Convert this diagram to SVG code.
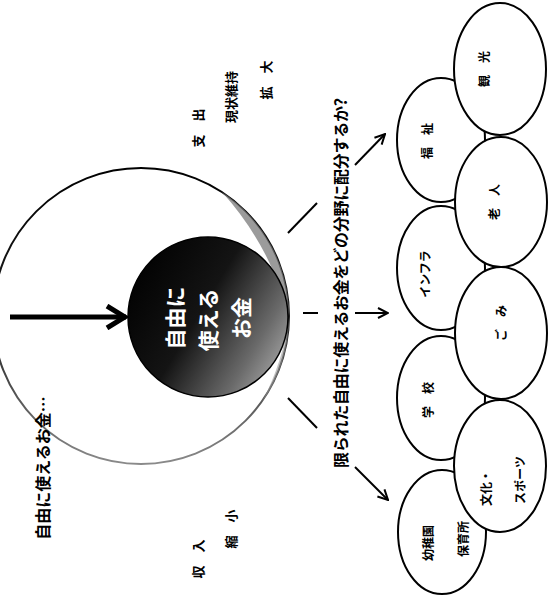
<svg xmlns="http://www.w3.org/2000/svg" width="557" height="608" viewBox="0 0 557 608">
<defs>
<style>
text{font-family:"Noto Sans CJK JP","Noto Sans CJK SC",sans-serif;font-weight:bold;fill:#000;text-anchor:middle;dominant-baseline:central}
.lbl{font-size:13px}
.el{font-size:12px}
.ctr{font-size:21px;fill:#fff}
ellipse{fill:#fff;stroke:#000;stroke-width:2}
.ln{stroke:#000;stroke-width:2;fill:none}
</style>
<linearGradient id="dark" x1="0" y1="0.2" x2="1" y2="0.8">
<stop offset="0" stop-color="#000"/>
<stop offset="0.45" stop-color="#141414"/>
<stop offset="0.8" stop-color="#6a6a6a"/>
<stop offset="1" stop-color="#a8a8a8"/>
</linearGradient>
<linearGradient id="ring" x1="0" y1="0" x2="0" y2="1">
<stop offset="0" stop-color="#000"/>
<stop offset="0.55" stop-color="#222"/>
<stop offset="1" stop-color="#8a8a8a"/>
</linearGradient>
<marker id="ah" viewBox="0 0 12 12" refX="11" refY="6" markerWidth="12" markerHeight="12" markerUnits="userSpaceOnUse" orient="auto">
<path d="M1,1 L11,6 L1,11" fill="none" stroke="#000" stroke-width="2"/>
</marker>
<marker id="ahBig" viewBox="0 0 24 26" refX="22" refY="13" markerWidth="24" markerHeight="26" markerUnits="userSpaceOnUse" orient="auto">
<path d="M3,2 L21,13 L3,24" fill="none" stroke="#000" stroke-width="5"/>
</marker>
</defs>
<rect width="557" height="608" fill="#fff"/>

<g id="bigCircle">
<circle cx="141" cy="316" r="148" fill="none" stroke="url(#ring)" stroke-width="2"/>
<path d="M222,192 A148,148 0 0 1 289,316 A300,300 0 0 0 222,192 Z" fill="#7a7a7a" opacity="0.75"/>
<path d="M289,318 A148,148 0 0 1 262,402 A260,260 0 0 0 289,318 Z" fill="#9a9a9a" opacity="0.6"/>
</g>

<g id="center">
<circle cx="208" cy="317" r="80" fill="url(#dark)" stroke="#000" stroke-width="1.5"/>
<text class="ctr" transform="translate(174,318) rotate(-90)">自由に</text>
<text class="ctr" transform="translate(207,320) rotate(-90)">使える</text>
<text class="ctr" transform="translate(240,318) rotate(-90)">お金</text>
</g>

<g id="labels">
<text transform="translate(42,468) rotate(-90)" style="font-size:16px">自由に使えるお金…</text>
<text class="lbl" transform="translate(197,128) rotate(-90)">支　出</text>
<text class="lbl" transform="translate(230,97) rotate(-90)">現状維持</text>
<text class="lbl" transform="translate(265,80) rotate(-90)">拡　大</text>
<text class="lbl" transform="translate(197,559) rotate(-90)">収　入</text>
<text class="lbl" transform="translate(230,529) rotate(-90)">縮　小</text>
<text transform="translate(340,283) rotate(-90)" style="font-size:16px" textLength="370" lengthAdjust="spacing">限られた自由に使えるお金をどの分野に配分するか?</text>
</g>

<g id="connectors">
<line x1="10" y1="317" x2="126" y2="317" stroke="#000" stroke-width="5" marker-end="url(#ahBig)"/>
<line class="ln" x1="288" y1="233" x2="317" y2="203"/>
<line class="ln" x1="303" y1="313" x2="318" y2="313"/>
<line class="ln" x1="288" y1="398" x2="317" y2="428"/>
<line class="ln" x1="355" y1="165" x2="385" y2="134" marker-end="url(#ah)"/>
<line class="ln" x1="355" y1="313" x2="388" y2="313" marker-end="url(#ah)"/>
<line class="ln" x1="355" y1="467" x2="388" y2="500" marker-end="url(#ah)"/>
</g>

<g id="fukushi"><ellipse cx="441" cy="140" rx="44" ry="62"/><text class="el" transform="translate(426,141) rotate(-90)">福　祉</text></g>
<g id="infura"><ellipse cx="441" cy="268" rx="44" ry="62"/><text class="el" transform="translate(424,274) rotate(-90)">インフラ</text></g>
<g id="gakko"><ellipse cx="441" cy="398" rx="44" ry="62"/><text class="el" transform="translate(427,400) rotate(-90)">学　校</text></g>
<g id="yochien"><ellipse cx="442" cy="532" rx="44" ry="62"/><text class="el" transform="translate(427,543) rotate(-90)">幼稚園</text><text class="el" transform="translate(462,539) rotate(-90)">保育所</text></g>
<g id="kanko"><ellipse cx="500" cy="69" rx="46" ry="66"/><text class="el" transform="translate(483,69) rotate(-90)">観　光</text></g>
<g id="rojin"><ellipse cx="501" cy="202" rx="46" ry="65"/><text class="el" transform="translate(493,202) rotate(-90)">老　人</text></g>
<g id="gomi"><ellipse cx="501" cy="333" rx="46" ry="66"/><text class="el" transform="translate(500,323) rotate(-90)">ご　み</text></g>
<g id="bunka"><ellipse cx="500" cy="466" rx="46" ry="66"/><text class="el" transform="translate(485,488) rotate(-90)">文化・</text><text class="el" transform="translate(519,480) rotate(-90)">スポーツ</text></g>
</svg>
